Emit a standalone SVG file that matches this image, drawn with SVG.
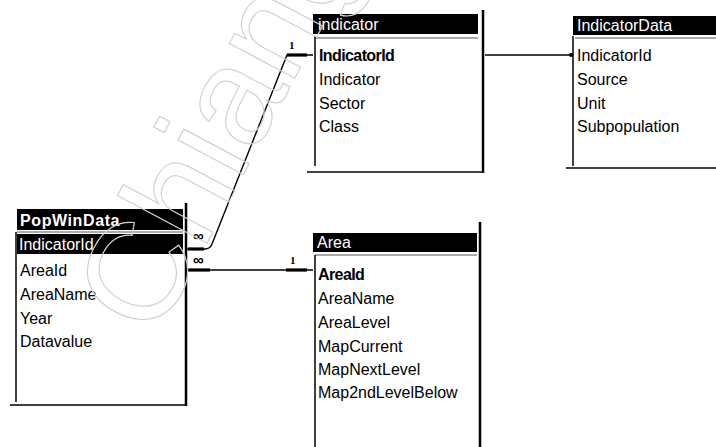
<svg xmlns="http://www.w3.org/2000/svg" width="716" height="447" viewBox="0 0 716 447">
  <defs>
    <style>
      .title-bar { fill: #000; }
      .title { font-family: "Liberation Sans", Arial, sans-serif; font-size: 16px; fill: #fff; }
      .title-bold { font-weight: bold; letter-spacing: 0.6px; }
      .field { font-family: "Liberation Sans", Arial, sans-serif; font-size: 16px; fill: #000; }
      .key { font-weight: bold; letter-spacing: -0.6px; }
      .field-sel { fill: #fff; }
      .edge { stroke: #000; stroke-width: 1.5; fill: none; }
      .frame { stroke: #000; stroke-width: 2.5; fill: none; }
      .sep { stroke: #555; stroke-width: 1; fill: none; }
      .rel { stroke: #000; stroke-width: 1.4; fill: none; }
      .rel-end { stroke: #000; stroke-width: 3.2; fill: none; }
      .many { font-family: "Liberation Sans", "DejaVu Sans", sans-serif; font-size: 15px; font-weight: bold; fill: #000; }
      .one { font-family: "Liberation Serif", serif; font-size: 11px; font-weight: bold; fill: #000; }
      .mark { font-family: "Liberation Sans", Arial, sans-serif; font-size: 140px; fill: none; stroke: #d2d2d2; stroke-width: 1.2; }
    </style>
  </defs>

  <rect width="716" height="447" fill="#fff"/>

  <!-- relationship lines -->
  <g id="connectors">
    <!-- PopWinData.IndicatorId (many) to indicator.IndicatorId (one) -->
    <path class="rel" d="M187,249 H205 Q210,249 212,244 L287,55 H313"/>
    <path class="rel-end" d="M188,249 H204"/>
    <path class="rel-end" d="M287,55 H307"/>
    <text class="many" x="193" y="241">∞</text>
    <text class="one" x="289" y="49">1</text>

    <!-- PopWinData.AreaId (many) to Area.AreaId (one) -->
    <path class="rel" d="M187,270 H313"/>
    <path class="rel-end" d="M188,270 H210"/>
    <path class="rel-end" d="M286,270 H307"/>
    <text class="many" x="193" y="265">∞</text>
    <text class="one" x="290" y="264">1</text>

    <!-- indicator to IndicatorData -->
    <path class="rel" d="M485,55 H571"/>
    <circle cx="571" cy="55" r="2" fill="#000"/>
  </g>

  <!-- PopWinData table -->
  <g id="popwindata">
    <rect class="title-bar" x="17" y="209" width="166" height="21"/>
    <text class="title title-bold" x="20" y="226">PopWinData</text>
    <line class="sep" x1="17" y1="232" x2="183" y2="232"/>
    <rect class="title-bar" x="17" y="234" width="166" height="20"/>
    <text class="field field-sel" x="19" y="250">IndicatorId</text>
    <text class="field" x="20" y="276">AreaId</text>
    <text class="field" x="20" y="300">AreaName</text>
    <text class="field" x="20" y="324">Year</text>
    <text class="field" x="20" y="347">Datavalue</text>
    <line class="edge" x1="16" y1="232" x2="16" y2="402"/>
    <line class="frame" x1="186" y1="203" x2="186" y2="406"/>
    <line class="edge" x1="10" y1="405" x2="187" y2="405" stroke-width="2"/>
  </g>

  <!-- indicator table -->
  <g id="indicator">
    <rect class="title-bar" x="313" y="14" width="165" height="20"/>
    <text class="title" x="318" y="30">indicator</text>
    <line class="sep" x1="315" y1="38" x2="478" y2="38"/>
    <text class="field key" x="319" y="61">IndicatorId</text>
    <text class="field" x="319" y="85">Indicator</text>
    <text class="field" x="319" y="109">Sector</text>
    <text class="field" x="319" y="132">Class</text>
    <line class="edge" x1="315" y1="36" x2="315" y2="166"/>
    <line class="frame" x1="483" y1="10" x2="483" y2="173"/>
    <line class="edge" x1="307" y1="172" x2="484" y2="172" stroke-width="2"/>
  </g>

  <!-- IndicatorData table -->
  <g id="indicatordata">
    <rect class="title-bar" x="573" y="16" width="143" height="19"/>
    <text class="title" x="577" y="31">IndicatorData</text>
    <line class="sep" x1="575" y1="38" x2="716" y2="38"/>
    <text class="field" x="577" y="61">IndicatorId</text>
    <text class="field" x="577" y="85">Source</text>
    <text class="field" x="577" y="109">Unit</text>
    <text class="field" x="577" y="132">Subpopulation</text>
    <line class="edge" x1="573" y1="36" x2="573" y2="166"/>
    <line class="edge" x1="566" y1="168" x2="716" y2="168" stroke-width="2"/>
  </g>

  <!-- Area table -->
  <g id="area">
    <rect class="title-bar" x="313" y="233" width="164" height="19"/>
    <text class="title" x="317" y="248">Area</text>
    <line class="sep" x1="315" y1="255" x2="477" y2="255"/>
    <text class="field key" x="318" y="280">AreaId</text>
    <text class="field" x="318" y="304">AreaName</text>
    <text class="field" x="318" y="328">AreaLevel</text>
    <text class="field" x="318" y="352">MapCurrent</text>
    <text class="field" x="318" y="375">MapNextLevel</text>
    <text class="field" x="318" y="398">Map2ndLevelBelow</text>
    <line class="edge" x1="315" y1="255" x2="315" y2="447"/>
    <line class="frame" x1="480" y1="222" x2="480" y2="447"/>
  </g>

  <!-- faint outlined watermark lettering -->
  <text class="mark" transform="translate(155,341) rotate(-62)">Chiang</text>
</svg>
